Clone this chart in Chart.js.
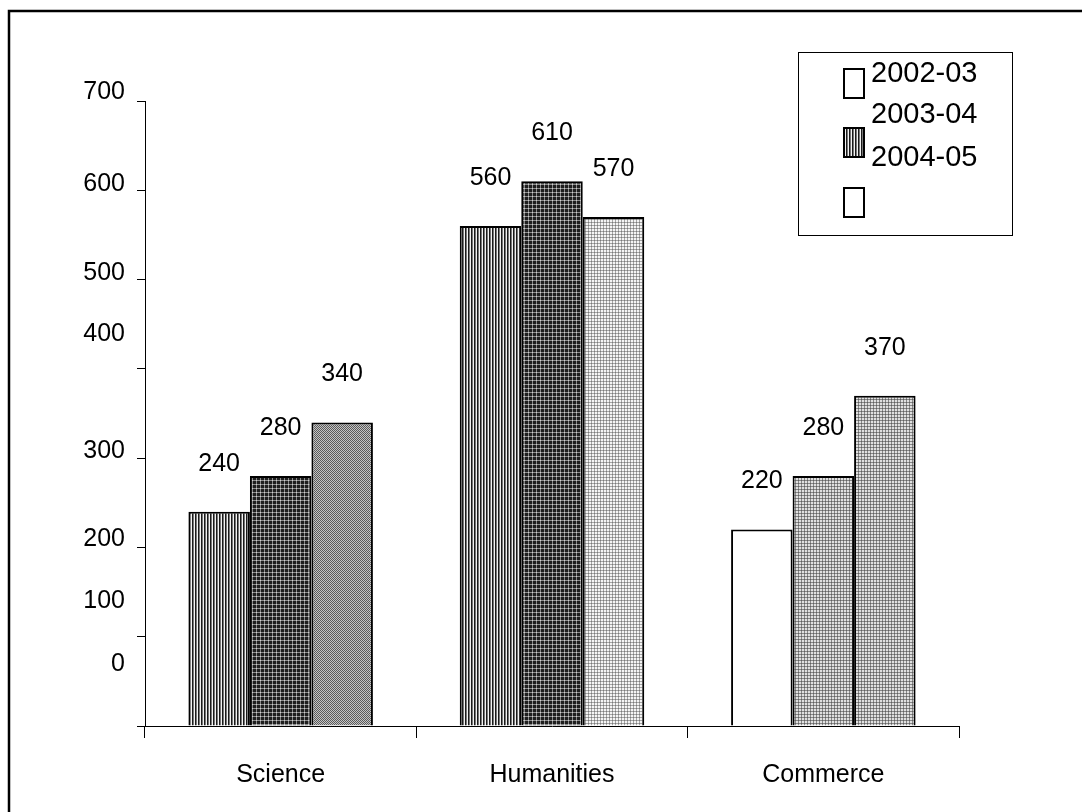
<!DOCTYPE html>
<html>
<head>
<meta charset="utf-8">
<script src="https://cdn.jsdelivr.net/npm/chart.js@4.4.1/dist/chart.umd.min.js"></script>
<style>
  html, body { margin: 0; padding: 0; background: #fff; }
  canvas { display: block; }
</style>
</head>
<body>
<canvas id="c" width="1082" height="812"></canvas>
<script>
// ---- data ----
const categories = ['Science', 'Humanities', 'Commerce'];
const seriesNames = ['2002-03', '2003-04', '2004-05'];
const values2002 = [240, 560, 220];
const values2003 = [280, 610, 280];
const values2004 = [340, 570, 370];
const yTickValues = [0, 100, 200, 300, 400, 500, 600, 700];

// ---- styling ----
const FONT = '"Liberation Sans", Arial, sans-serif';
// vertical shift (px) of each y tick label relative to its tick mark
const tickLabelShift = [-62, -36, -8, -7, -35, -6, -6, -9];

function makePattern(size, painter) {
  const c = document.createElement('canvas');
  c.width = size; c.height = size;
  const g = c.getContext('2d');
  painter(g, size);
  return document.getElementById('c').getContext('2d').createPattern(c, 'repeat');
}
function px(g, x, y, col) { g.fillStyle = col; g.fillRect(x, y, 1, 1); }

const stripes = makePattern(3, (g, s) => {
  const cols = ['#1a1a1a', '#777', '#f2f2f2'];
  for (let x = 0; x < s; x++) { g.fillStyle = cols[x]; g.fillRect(x, 0, 1, s); }
});
const darkGrid = makePattern(4, (g, s) => {
  g.fillStyle = '#1e1e1e'; g.fillRect(0, 0, s, s);
  g.fillStyle = '#8a8a8a'; g.fillRect(0, 0, s, 1); g.fillRect(0, 0, 1, s);
  px(g, 0, 0, '#d0d0d0');
});
const midDots = makePattern(2, (g) => {
  px(g, 0, 0, '#5a5a5a'); px(g, 1, 1, '#5a5a5a');
  px(g, 1, 0, '#c4c4c4'); px(g, 0, 1, '#c4c4c4');
});
const lightGrid = makePattern(3, (g, s) => {
  g.fillStyle = '#f4f4f4'; g.fillRect(0, 0, s, s);
  g.fillStyle = '#a6a6a6'; g.fillRect(0, 0, s, 1); g.fillRect(0, 0, 1, s);
  px(g, 0, 0, '#7a7a7a');
});
const greyGrid = makePattern(3, (g, s) => {
  g.fillStyle = '#e0e0e0'; g.fillRect(0, 0, s, s);
  g.fillStyle = '#888'; g.fillRect(0, 0, s, 1); g.fillRect(0, 0, 1, s);
  px(g, 0, 0, '#606060');
});

// value labels above every bar
const valueLabels = {
  id: 'valueLabels',
  afterDatasetsDraw(chart) {
    const ctx = chart.ctx;
    ctx.save();
    ctx.font = '25px ' + FONT;
    ctx.fillStyle = '#000';
    ctx.textAlign = 'center';
    ctx.textBaseline = 'middle';
    chart.data.datasets.forEach((ds, i) => {
      chart.getDatasetMeta(i).data.forEach((bar, j) => {
        ctx.fillText(String(ds.data[j]), bar.x, bar.y - 48);
      });
    });
    ctx.restore();
  }
};

// y tick labels, outer frame lines and the boxed legend
const decorations = {
  id: 'decorations',
  afterDraw(chart) {
    const ctx = chart.ctx;
    const y = chart.scales.y;
    ctx.save();
    ctx.font = '25px ' + FONT;
    ctx.fillStyle = '#000';
    ctx.textAlign = 'right';
    ctx.textBaseline = 'middle';
    yTickValues.forEach((v, i) => {
      ctx.fillText(String(v), 125, y.getPixelForValue(v) + tickLabelShift[i]);
    });

    // frame
    ctx.strokeStyle = '#000';
    ctx.lineWidth = 2.5;
    ctx.beginPath();
    ctx.moveTo(9, 812); ctx.lineTo(9, 11); ctx.lineTo(1082, 11);
    ctx.stroke();

    // legend
    ctx.lineWidth = 1;
    ctx.strokeRect(798.5, 52.5, 214, 183);
    ctx.lineWidth = 2;
    ctx.fillStyle = '#fff';
    ctx.fillRect(844, 69, 20, 29); ctx.strokeRect(844, 69, 20, 29);
    ctx.fillStyle = stripes;
    ctx.fillRect(844, 128, 20, 29); ctx.strokeRect(844, 128, 20, 29);
    ctx.fillStyle = '#fff';
    ctx.fillRect(844, 188, 20, 29); ctx.strokeRect(844, 188, 20, 29);
    ctx.font = '29px ' + FONT;
    ctx.fillStyle = '#000';
    ctx.textAlign = 'left';
    ctx.fillText(seriesNames[0], 871, 74);
    ctx.fillText(seriesNames[1], 871, 115);
    ctx.fillText(seriesNames[2], 871, 158);
    ctx.restore();
  }
};

new Chart(document.getElementById('c'), {
  type: 'bar',
  data: {
    labels: categories,
    datasets: [
      { label: seriesNames[0], data: values2002, backgroundColor: [stripes, stripes, '#fff'] },
      { label: seriesNames[1], data: values2003, backgroundColor: [darkGrid, darkGrid, greyGrid] },
      { label: seriesNames[2], data: values2004, backgroundColor: [midDots, lightGrid, greyGrid] }
    ]
  },
  options: {
    responsive: false,
    animation: false,
    devicePixelRatio: 1,
    layout: { padding: { left: 137, right: 123, top: 101, bottom: 26 } },
    datasets: {
      bar: {
        borderColor: '#000',
        borderWidth: 2,
        categoryPercentage: 0.68,
        barPercentage: 1
      }
    },
    plugins: {
      legend: { display: false },
      tooltip: { enabled: false }
    },
    scales: {
      x: {
        grid: { offset: true, drawOnChartArea: false, tickLength: 12, color: '#000' },
        border: { color: '#000', width: 1 },
        ticks: { color: '#000', font: { family: FONT, size: 25 }, padding: 22, maxRotation: 0 },
        afterFit(s) { s.height = 60; }
      },
      y: {
        min: 0, max: 700,
        grid: { drawOnChartArea: false, tickLength: 8, color: '#000' },
        border: { color: '#000', width: 1 },
        ticks: { display: false, stepSize: 100 },
        afterFit(s) { s.width = 8; }
      }
    }
  },
  plugins: [valueLabels, decorations]
});
</script>
</body>
</html>
